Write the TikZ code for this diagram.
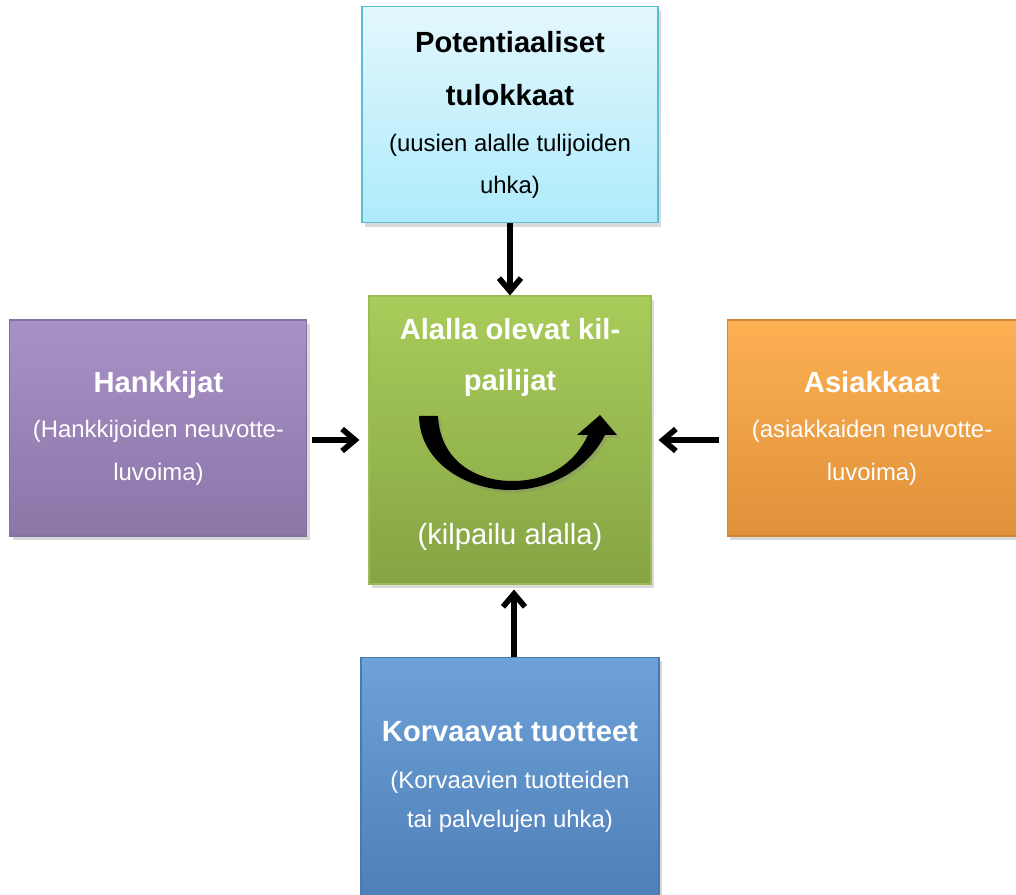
\documentclass[tikz,border=0pt]{standalone}
\usepackage{fontspec}
\setmainfont{Liberation Sans}
\usetikzlibrary{arrows.meta, positioning, shadows}

\definecolor{potA}{HTML}{E3F7FD}
\definecolor{potB}{HTML}{AEEBFB}
\definecolor{potR}{HTML}{5BBCD6}
\definecolor{alaA}{HTML}{A9CC5A}
\definecolor{alaB}{HTML}{86A444}
\definecolor{alaR}{HTML}{9CBD55}
\definecolor{hanA}{HTML}{A891C6}
\definecolor{hanB}{HTML}{8B76A8}
\definecolor{hanR}{HTML}{8570A2}
\definecolor{asiA}{HTML}{FDB052}
\definecolor{asiB}{HTML}{E0913A}
\definecolor{asiR}{HTML}{D08636}
\definecolor{korA}{HTML}{6EA2D9}
\definecolor{korB}{HTML}{4F7FB8}
\definecolor{korR}{HTML}{4A78B0}

\newcommand{\ots}[1]{{\fontsize{16.6}{29}\selectfont\bfseries #1}}

\begin{document}
\begin{tikzpicture}[
	node distance=14.4mm and 12.2mm,
	box/.style = {draw, line width=0.6pt, inner sep=0pt, align=center,
		minimum height=43.2mm, font=\fontsize{13.6}{24}\selectfont,
		drop shadow={opacity=0.3, shadow xshift=0.6mm, shadow yshift=-0.8mm}},
	otsikko/.style = {font=\fontsize{16.6}{28.5}\selectfont\bfseries},
	arr/.style = {line width=3.2pt, -{Straight Barb[length=2.6mm, width=4.4mm]}},
	sx+/.style = {xshift= 1mm},
	sx-/.style = {xshift=-1.8mm},
	sa+/.style = {xshift= 1.4mm},
	sa-/.style = {xshift=-1.6mm},
	sk+/.style = {xshift= 0.8mm},
	sk-/.style = {xshift= 0.8mm, yshift=-1mm},
	sy+/.style = {yshift= 2.4mm}
     ]
		\useasboundingbox (-10.2,-9.1) rectangle (10.12,8.8);
%
		\node[box, minimum width=56.4mm, minimum height=57.6mm,
			top color=alaA, bottom color=alaB, draw=alaR] (alalla) {};
		\node[otsikko, text=white, align=center] (alallaT)
			at ([yshift=-12.4mm] alalla.north) {Alalla olevat kil-\\pailijat};
		\node[text=white, font=\fontsize{16.6}{24}\selectfont] (alallaA)
			at ([yshift=9.6mm] alalla.south) {(kilpailu alalla)};
%
		\node[box, minimum width=59.2mm, top color=potA, bottom color=potB,
			draw=potR, text=black] (pot) [above=of alalla]
			{\ots{Potentiaaliset}\\[6pt] \ots{tulokkaat}\\[2pt]
			 (uusien alalle tulijoiden\\ uhka)};
%
		\node[box, minimum width=59.4mm, top color=hanA, bottom color=hanB,
			draw=hanR, text=white] (hank) [left=of alalla, sy+]
			{\ots{Hankkijat}\\[2pt] (Hankkijoiden neuvotte-\\ luvoima)};
%
		\node[box, minimum width=58mm, top color=asiA, bottom color=asiB,
			draw=asiR, text=white] (asia) [right=15mm of alalla, sy+]
			{\ots{Asiakkaat}\\[2pt] (asiakkaiden neuvotte-\\ luvoima)};
%
		\node[box, minimum width=59.6mm, minimum height=47.8mm, top color=korA,
			bottom color=korB, draw=korR, text=white] (korv) [below=of alalla]
			{\ots{Korvaavat tuotteet}\\[3pt] (Korvaavien tuotteiden\\[-2pt]
			 tai palvelujen uhka)};
%
		\draw[arr] (pot) -- (alalla);
		\draw[arr] ([sx+] hank.east |- alalla.west) -- ([sx-] alalla.west);
		\draw[arr] ([sa-] asia.west |- alalla.east) -- ([sa+] alalla.east);
		\draw[arr] ([sk+] korv.north) -- ([sk-] alalla.south);
%
		\fill[black, drop shadow={opacity=0.3, shadow xshift=0.5mm, shadow yshift=-0.6mm}]
			(-1.82,0.48) .. controls (-1.8,-0.5) and (-0.8,-1.0) .. (0,-1.0)
			.. controls (0.9,-1.0) and (1.6,-0.5) .. (1.9,0.1)
			-- (2.14,0.1) -- (1.8,0.5) -- (1.34,0.1) -- (1.56,0.1)
			.. controls (1.3,-0.45) and (0.8,-0.82) .. (0.04,-0.82)
			.. controls (-0.7,-0.82) and (-1.4,-0.4) .. (-1.44,0.48) -- cycle;
\end{tikzpicture}
\end{document}
